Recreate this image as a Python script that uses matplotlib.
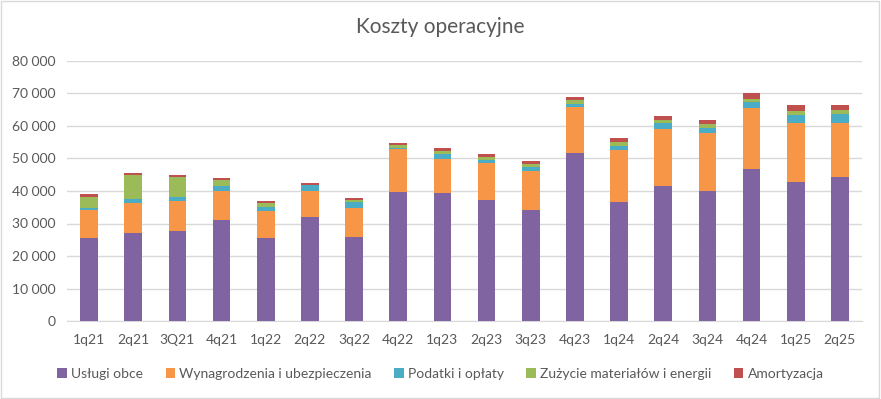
import matplotlib.pyplot as plt
import numpy as np
from matplotlib.patches import Rectangle

plt.rcParams['font.family'] = ['Lato', 'DejaVu Sans']

quarters = ["1q21", "2q21", "3Q21", "4q21", "1q22", "2q22", "3q22", "4q22", "1q23",
            "2q23", "3q23", "4q23", "1q24", "2q24", "3q24", "4q24", "1q25", "2q25"]

uslugi = [25600, 27100, 27700, 31100, 25600, 32000, 25900, 39700, 39400,
          37300, 34200, 51700, 36700, 41600, 40000, 46800, 42800, 44400]
wynagrodzenia = [8600, 9200, 9300, 8900, 8300, 8000, 8900, 13300, 10500,
                 11400, 12000, 14200, 16000, 17500, 17900, 18800, 18200, 16600]
podatki = [600, 1100, 1200, 1600, 1200, 1900, 1900, 100, 1500,
           900, 1200, 900, 1200, 1900, 1500, 1900, 2400, 2800]
zuzycie = [3400, 7600, 6200, 1800, 1200, 100, 600, 900, 1000,
           900, 1000, 1300, 1200, 900, 1300, 900, 1300, 1200]
amortyzacja = [900, 600, 600, 600, 700, 600, 600, 900, 900,
               900, 900, 900, 1300, 1200, 1200, 1800, 1800, 1500]

series = [
    ("Usługi obce", uslugi, "#8064A2"),
    ("Wynagrodzenia i ubezpieczenia", wynagrodzenia, "#F79646"),
    ("Podatki i opłaty", podatki, "#4BACC6"),
    ("Zużycie materiałów i energii", zuzycie, "#9BBB59"),
    ("Amortyzacja", amortyzacja, "#C0504D"),
]

text_col = "#595959"

fig = plt.figure(figsize=(8.81, 3.99), dpi=100)
ax = fig.add_axes([67 / 881, 78 / 399, (862 - 67) / 881, 260 / 399])

x = np.arange(len(quarters))
bottom = np.zeros(len(quarters))
for name, vals, col in series:
    ax.bar(x, vals, width=0.4, bottom=bottom, color=col, label=name, zorder=3)
    bottom += np.array(vals)

ax.set_ylim(0, 80000)
ax.set_xlim(-0.5, len(quarters) - 0.5)
ax.set_yticks(np.arange(0, 80001, 10000))
ax.set_yticklabels([f"{v:,}".replace(",", " ") for v in range(0, 80001, 10000)])
ax.set_xticks(x)
ax.set_xticklabels(quarters)
ax.grid(axis="y", color="#D9D9D9", linewidth=1, zorder=0)
for s in ["top", "right", "left"]:
    ax.spines[s].set_visible(False)
ax.spines["bottom"].set_color("#D9D9D9")
ax.tick_params(axis="both", length=0, colors=text_col, labelsize=10)
ax.tick_params(axis="x", pad=9)
ax.tick_params(axis="y", pad=8)

fig.text(0.5, 1 - 27 / 399, "Koszty operacyjne", ha="center", va="center",
         fontsize=15, color=text_col)

fig.legend(loc="center", bbox_to_anchor=(0.5, 25 / 399), ncol=5, frameon=False,
           fontsize=10, labelcolor=text_col, handlelength=0.7, handleheight=0.7,
           handletextpad=0.3, columnspacing=1.6)

fig.patches.append(Rectangle((0.001, 0.002), 0.997, 0.996, transform=fig.transFigure,
                             fill=False, edgecolor="#D9D9D9", linewidth=1))

fig.savefig("out.png", dpi=100)
